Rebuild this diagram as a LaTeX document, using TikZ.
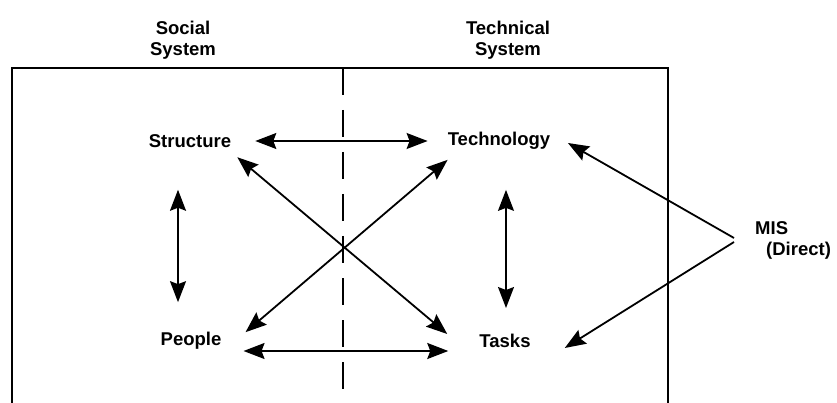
\documentclass[tikz,border=0pt]{standalone}
\usepackage{fontspec}
\setmainfont{Liberation Sans}
\usetikzlibrary{arrows.meta}
\tikzset{
  lbl/.style={font=\fontsize{18.5}{21}\selectfont\bfseries, inner sep=0pt,
              align=center},
  frame/.style={line width=1.8pt, color=black},
  divider/.style={line width=1.8pt, dash pattern=on 27pt off 15pt},
  arr/.style={-{Stealth[length=21pt, width=16pt, inset=3pt]}, line width=1.8pt},
  biarr/.style={{Stealth[length=21pt, width=16pt, inset=3pt]}-{Stealth[length=21pt, width=16pt, inset=3pt]},
                line width=1.8pt},
}

\begin{document}
\begin{tikzpicture}[x=1pt, y=-1pt]
  % page = 837 x 403 px, y grows downwards
  \useasboundingbox[fill=white] (0,0) rectangle (837,403);

  % Frame (open at the bottom) and the dashed divider
  \draw[frame] (12,403) -- (12,68) -- (668,68) -- (668,403);
  \draw[divider] (343,68) -- (343,403);

  % Headings above the frame
  \node[lbl] (social)    at (183,40) {Social\\System};
  \node[lbl] (technical) at (508,40) {Technical\\System};

  % The four components
  \node[lbl] (structure)  at (190,141) {Structure};
  \node[lbl] (technology) at (499,141) {Technology};
  \node[lbl] (people)     at (191,341) {People};
  \node[lbl] (tasks)      at (505,341) {Tasks};

  % MIS, outside the frame
  \node[lbl, align=left, anchor=west] (mis) at (755,240) {MIS\\\hspace*{11pt}(Direct)};

  % Horizontal links
  \draw[biarr, line width=1.4pt, shorten <=24pt, shorten >=20pt]
    (structure.east) -- (technology.west);
  \draw[biarr, shorten <=22pt, shorten >=31pt]
    ([yshift=-10pt]people.east) -- ([yshift=-10pt]tasks.west);

  % Vertical links
  \draw[biarr, shorten <=42pt, shorten >=30pt]
    ([xshift=-12pt]structure.south) -- ([xshift=-13pt]people.north);
  \draw[biarr, line width=1.4pt, shorten <=40pt, shorten >=26pt]
    ([xshift=7pt]technology.south) -- ([xshift=1pt]tasks.north);

  % Diagonal links
  \draw[biarr] ([xshift=6pt, yshift=-9.5pt]structure.south east)
    -- ([xshift=-32pt]tasks.north west);
  \draw[biarr] ([xshift=24pt]people.north east)
    -- ([yshift=-10pt]technology.south west);

  % MIS acts directly on technology and tasks
  \draw[arr] ([xshift=-21pt, yshift=2pt]mis.west) -- ([xshift=17.5pt, yshift=-2pt]technology.east);
  \draw[arr] ([xshift=-21pt, yshift=-2pt]mis.west) -- ([xshift=34pt, yshift=-7pt]tasks.east);
\end{tikzpicture}
\end{document}
